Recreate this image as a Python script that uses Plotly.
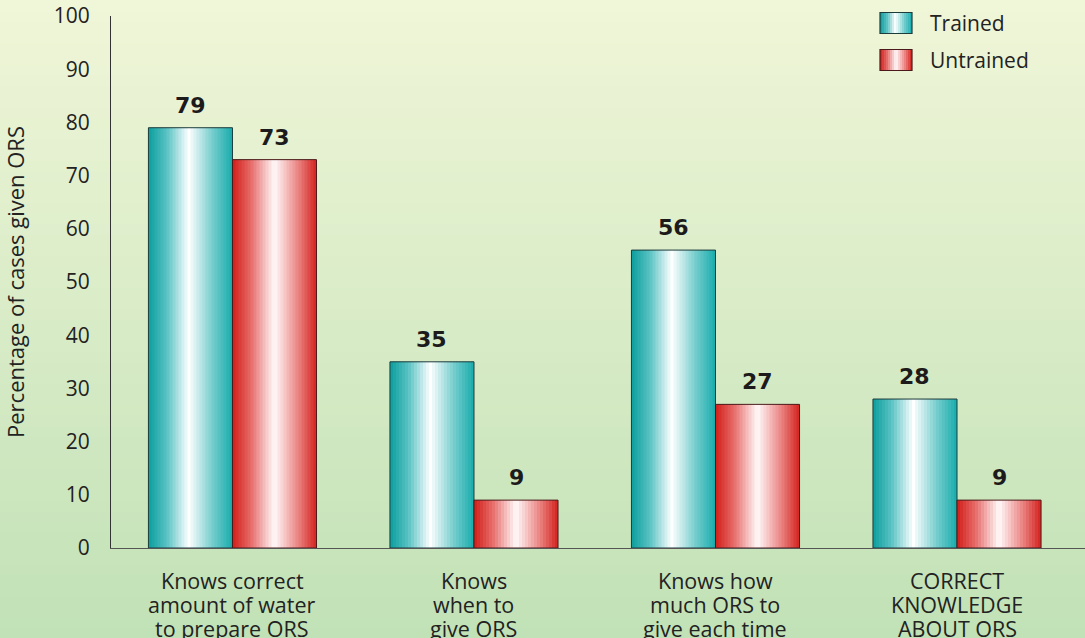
import plotly.graph_objects as go

categories = ["Knows correct<br>amount of water<br>to prepare ORS",
              "Knows<br>when to<br>give ORS",
              "Knows how<br>much ORS to<br>give each time",
              "CORRECT<br>KNOWLEDGE<br>ABOUT ORS"]
trained = [79, 35, 56, 28]
untrained = [73, 9, 27, 9]
y_ticks = [0, 10, 20, 30, 40, 50, 60, 70, 80, 90, 100]
series_names = ["Trained", "Untrained"]

W, H = 1085, 638
ML, MR, MT, MB = 111, 0, 16, 90
x_pos = list(range(len(categories)))
BW = 0.348
N = 28

teal_stops = [(0.0, (12, 158, 158)), (0.22, (90, 194, 195)), (0.48, (255, 255, 255)),
              (0.76, (118, 205, 205)), (1.0, (24, 172, 172))]
red_stops = [(0.0, (210, 30, 26)), (0.22, (230, 108, 106)), (0.5, (255, 250, 250)),
             (0.78, (234, 132, 130)), (1.0, (212, 34, 30))]


def interp(stops, t):
    for (t0, c0), (t1, c1) in zip(stops[:-1], stops[1:]):
        if t0 <= t <= t1:
            f = (t - t0) / (t1 - t0) if t1 > t0 else 0
            c = [round(a + (b - a) * f) for a, b in zip(c0, c1)]
            return "rgb(%d,%d,%d)" % tuple(c)
    c = stops[-1][1]
    return "rgb(%d,%d,%d)" % c


fig = go.Figure()

# background gradient (figure-wide)
ph = H - MT - MB
pw = W - ML - MR
y_bot = -MB / ph
y_top = 1 + MT / ph
top_c = (240, 246, 216)
bot_c = (193, 225, 182)
NB = 60
for i in range(NB):
    f0 = i / NB
    f1 = (i + 1) / NB
    c = [round(b + (t - b) * (f0 + 0.5 / NB)) for b, t in zip(bot_c, top_c)]
    fig.add_shape(type="rect", xref="paper", yref="paper",
                  x0=-ML / pw - 0.01, x1=1.01,
                  y0=y_bot + (y_top - y_bot) * f0 - 0.002,
                  y1=y_bot + (y_top - y_bot) * f1 + 0.002,
                  fillcolor="rgb(%d,%d,%d)" % tuple(c), line_width=0, layer="below")

s = BW / N
for name, vals, stops, start, edge in [
    ("Trained", trained, teal_stops, -BW, "#1d3b3b"),
    ("Untrained", untrained, red_stops, 0.0, "#4a1a1a"),
]:
    for i in range(N):
        t = (i + 0.5) / N
        w = s * 1.6 if i < N - 1 else s
        fig.add_trace(go.Bar(x=x_pos, y=vals, offset=start + i * s, width=w,
                             marker=dict(color=interp(stops, t), line_width=0),
                             showlegend=False, hoverinfo="skip"))
    fig.add_trace(go.Bar(x=x_pos, y=vals, offset=start, width=BW, name=name,
                         marker=dict(color="rgba(0,0,0,0)", line=dict(color=edge, width=1)),
                         showlegend=False, hoverinfo="skip"))
    for xp, v in zip(x_pos, vals):
        fig.add_annotation(x=xp + start + BW / 2, y=v, text=str(v), showarrow=False,
                           yanchor="bottom", yshift=8,
                           font=dict(family="DejaVu Sans", size=22, color="#1c1a1a",
                                     weight="bold"))

# category labels, one line per annotation for tight line spacing
line_y = [580, 604, 628]
for xp, cat in zip(x_pos, categories):
    for k, line in enumerate(cat.split("<br>")):
        fig.add_annotation(x=xp, xref="x", yref="paper", y=1 + (MT - line_y[k]) / ph,
                           text=line, showarrow=False, xanchor="center", yanchor="middle",
                           font=dict(family="Open Sans", size=21.5, color="#222"))

# custom legend
leg_x0, leg_x1 = 880, 912
for (name, stops, yc, edge) in [("Trained", teal_stops, 23, "#1d3b3b"),
                                 ("Untrained", red_stops, 60, "#4a1a1a")]:
    y0p = 1 + (MT - (yc - 10.5)) / ph
    y1p = 1 + (MT - (yc + 10.5)) / ph
    ns = 16
    for i in range(ns):
        xa = (leg_x0 - ML + (leg_x1 - leg_x0) * i / ns) / pw
        xb = (leg_x0 - ML + (leg_x1 - leg_x0) * (i + 1.5 if i < ns - 1 else i + 1) / ns) / pw
        fig.add_shape(type="rect", xref="paper", yref="paper", x0=xa, x1=xb,
                      y0=y1p, y1=y0p, fillcolor=interp(stops, (i + 0.5) / ns), line_width=0)
    fig.add_shape(type="rect", xref="paper", yref="paper",
                  x0=(leg_x0 - ML) / pw, x1=(leg_x1 - ML) / pw,
                  y0=y1p, y1=y0p, line=dict(color=edge, width=1.2))
    fig.add_annotation(xref="paper", yref="paper", x=(928 - ML) / pw,
                       y=1 + (MT - yc) / ph, text=name, showarrow=False,
                       xanchor="left", yanchor="middle",
                       font=dict(family="Open Sans", size=21, color="#222"))

fig.update_layout(
    width=W, height=H,
    margin=dict(l=ML, r=MR, t=MT, b=MB),
    barmode="overlay",
    paper_bgcolor="#d8ebc7", plot_bgcolor="rgba(0,0,0,0)",
    showlegend=False,
    xaxis=dict(range=[-0.503, 3.53], tickvals=x_pos, showticklabels=False,
               showgrid=False, zeroline=False, showline=True, linecolor="#555",
               linewidth=1.2, ticks=""),
    yaxis=dict(range=[0, 100], tickvals=y_ticks, showgrid=False, zeroline=False,
               showline=True, linecolor="#333", linewidth=1.2, ticks="",
               ticklabelstandoff=16,
               tickfont=dict(family="Open Sans", size=21, color="#222"),
               title=dict(text="Percentage of cases given ORS", standoff=22,
                          font=dict(family="Open Sans", size=22, color="#222"))),
)

fig.write_html("out.html", config={"displayModeBar": False},
               post_script="document.body.style.margin='0';document.body.style.padding='0';")
